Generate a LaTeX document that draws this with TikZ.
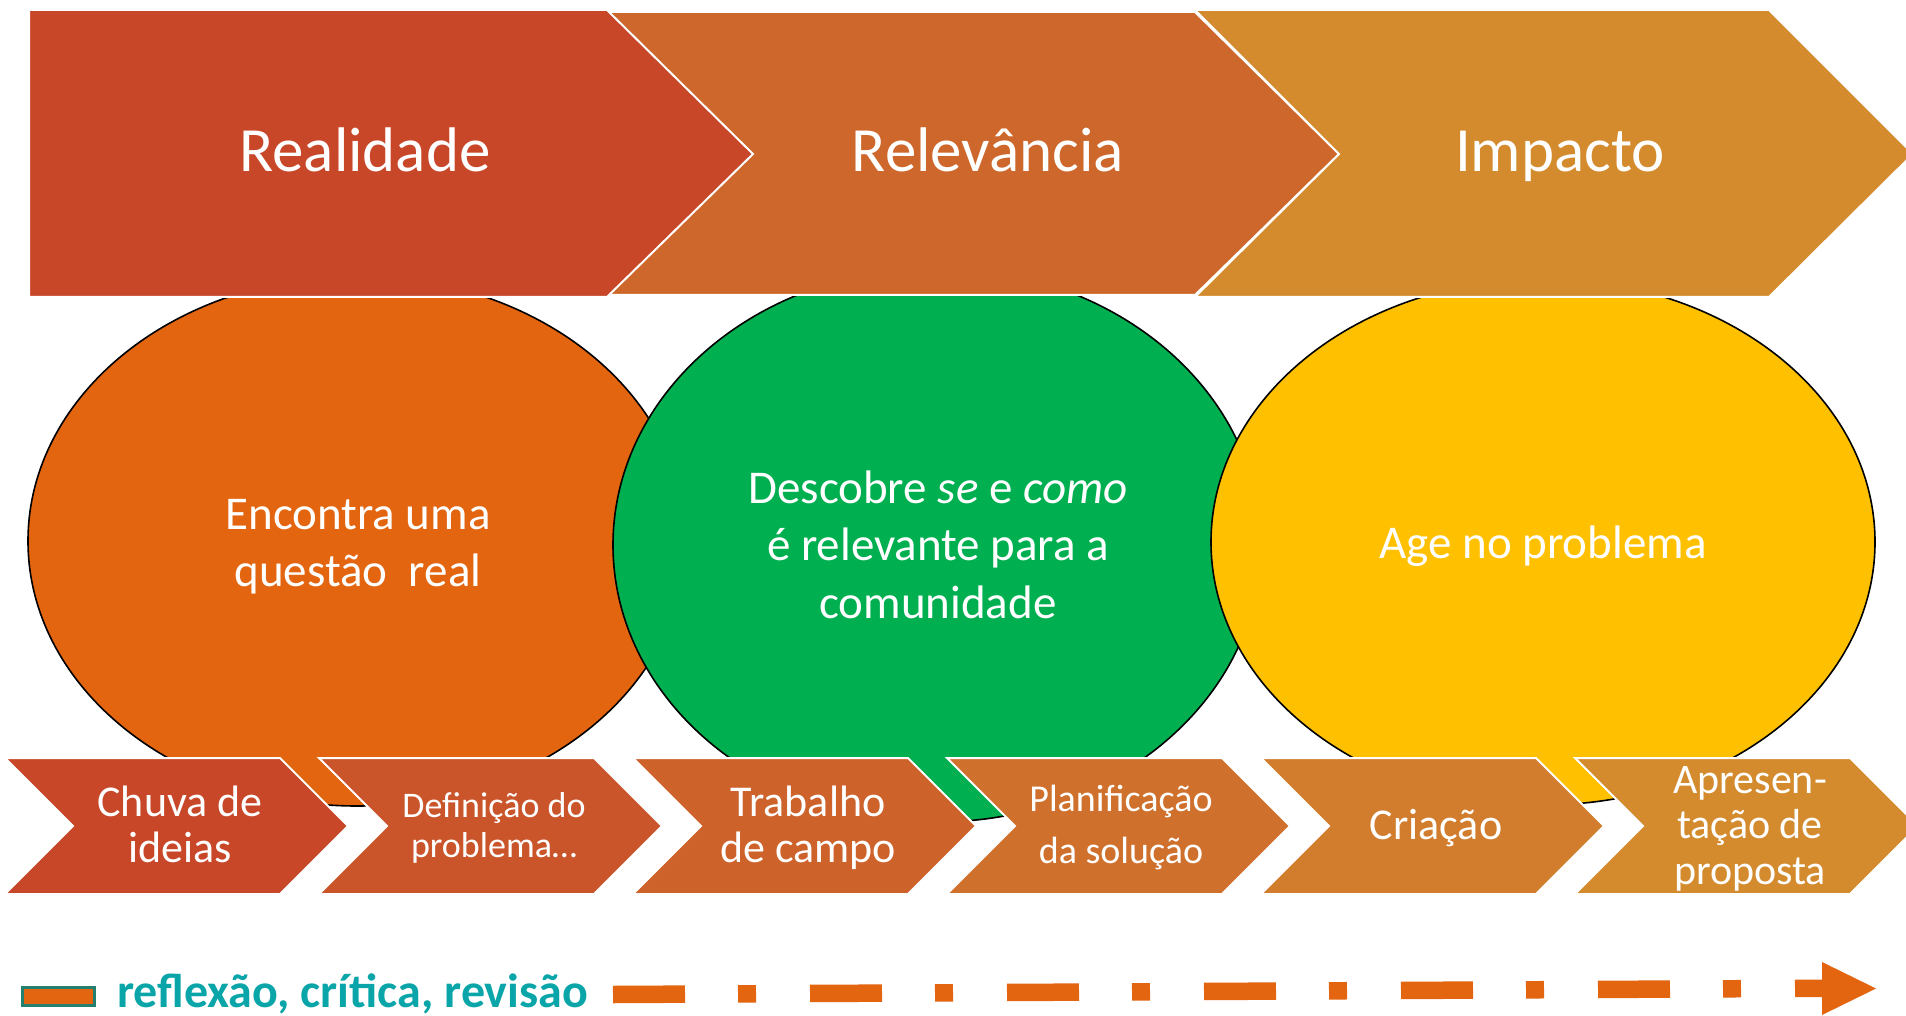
\documentclass[tikz,border=0pt]{standalone}
\usepackage{fontspec}
\setmainfont{Carlito}
\definecolor{cA}{HTML}{C84729}
\definecolor{cB}{HTML}{CD672B}
\definecolor{cC}{HTML}{D48B2E}
\definecolor{bA}{HTML}{C84729}
\definecolor{bB}{HTML}{CA552A}
\definecolor{bC}{HTML}{CD622B}
\definecolor{bD}{HTML}{CF702C}
\definecolor{bE}{HTML}{D27D2D}
\definecolor{bF}{HTML}{D48B2E}
\definecolor{orgE}{HTML}{E36510}
\definecolor{grnE}{HTML}{00AF50}
\definecolor{ylwE}{HTML}{FFC000}
\definecolor{tealT}{HTML}{0AA5A9}
\definecolor{legB}{HTML}{23806E}
\newcommand{\mlines}[1]{\begin{tabular}[t]{@{}c@{}}#1\end{tabular}}
\begin{document}
\begin{tikzpicture}[x=1pt,y=-1pt,
  chev/.style={line width=2pt, draw=white, line join=miter},
  bub/.style={draw=black, line width=1.6pt},
  lbl/.style={text=white, inner sep=0pt, anchor=base},
  ttl/.style={lbl, font=\fontsize{63}{76}\selectfont},
  etx/.style={lbl, font=\fontsize{47}{57.5}\selectfont},
]
\useasboundingbox (0,0) rectangle (1906,1016);
\fill[white] (0,0) rectangle (1906,1016);
% speech ellipses
\draw[bub, fill=orgE] (357,541) ellipse [x radius=329, y radius=265];
\draw[bub, fill=grnE] (937,545) ellipse [x radius=324, y radius=277];
\draw[bub, fill=ylwE] (1543,542) ellipse [x radius=332, y radius=263];
% top chevrons
\draw[chev, fill=cA] (29,10) -- (609,10) -- (754,154) -- (609,297) -- (29,297) -- cycle;
\draw[chev, fill=cB] (609,12) -- (1195,12) -- (1339,154) -- (1195,295) -- (609,295) -- (753,154) -- cycle;
\draw[chev, fill=cC] (1195,10) -- (1769,10) -- (1913,154) -- (1769,297) -- (1195,297) -- (1339,154) -- cycle;
% bottom chevrons
\foreach \i/\c in {0/bA,1/bB,2/bC,3/bD,4/bE,5/bF}{
  \pgfmathsetmacro{\xo}{5+314*\i}
  \draw[chev, fill=\c] (\xo,758) -- ({\xo+275},758) -- ({\xo+343},826) -- ({\xo+275},894) -- (\xo,894) -- ({\xo+68},826) -- cycle;
}
% titles
\node[ttl] (t1) at (365,172) {Realidade};
\node[ttl] (t2) at (988,172) {Relevância};
\node[ttl] (t3) at (1560,172) {Impacto};
% ellipse texts
\node[etx] (e1) at (358,529) {\mlines{Encontra uma\\questão~~real}};
\node[etx] (e2) at (938,503) {\mlines{Descobre \textit{se} e \textit{como}\\é relevante para a\\comunidade}};
\node[etx] (e3) at (1543,558) {Age no problema};
% bottom texts
\node[lbl, font=\fontsize{44}{46}\selectfont] (s1) at (180,816) {\mlines{Chuva de\\ideias}};
\node[lbl, font=\fontsize{36}{40}\selectfont] (s2) at (494,817) {\mlines{Definição do\\problema…}};
\node[lbl, font=\fontsize{44}{46}\selectfont] (s3) at (808,816) {\mlines{Trabalho\\de campo}};
\node[lbl, font=\fontsize{38}{52}\selectfont] (s4) at (1121,811) {\mlines{Planificação\\da solução}};
\node[lbl, font=\fontsize{44}{46}\selectfont] (s5) at (1436,839) {Criação};
\node[lbl, font=\fontsize{42}{45.5}\selectfont] (s6) at (1750,793) {\mlines{Apresen-\\tação de\\proposta}};
% legend
\draw[draw=legB, line width=3pt, fill=orgE] (22,987) rectangle (94,1005);
\node[inner sep=0pt, anchor=base west, text=tealT, font=\fontsize{48}{56}\selectfont\bfseries] (leg) at (117,1007) {reflexão, crítica, revisão};
\coordinate (ds) at (613,994.5);
\coordinate (de) at (1822,988.3);
\draw[orgE, line width=17.5pt, dash pattern=on 72pt off 53pt on 18pt off 54pt] (ds) -- (de);
\fill[orgE] (1822,962) -- (1876,988.5) -- (1822,1015) -- cycle;
\end{tikzpicture}
\end{document}
